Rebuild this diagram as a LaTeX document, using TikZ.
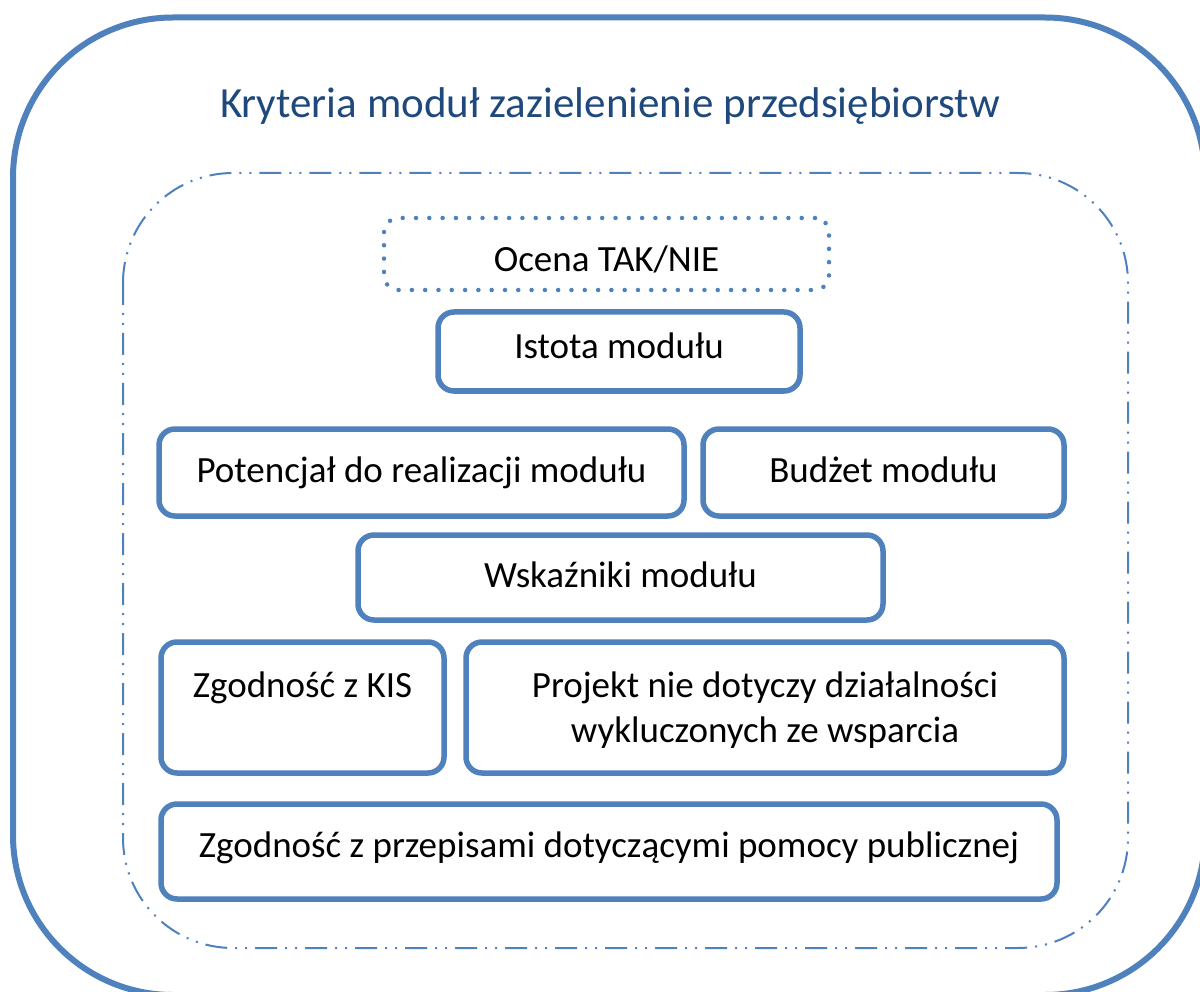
\documentclass[tikz,border=0pt]{standalone}
\usepackage{fontspec}
\setmainfont{Carlito}
\definecolor{frameblue}{HTML}{4F81BD}
\definecolor{titleblue}{HTML}{1F497D}
\tikzset{
  outerframe/.style={draw=frameblue, line width=6pt, rounded corners=160pt},
  innerframe/.style={draw=frameblue, line width=2pt, rounded corners=110pt,
    dash pattern=on 22pt off 8pt on 2pt off 8pt on 2pt off 8pt},
  critbox/.style={draw=frameblue, line width=5.5pt, rounded corners=16pt, inner sep=0pt, fill=white},
  dotbox/.style={draw=frameblue, line width=4.5pt, line cap=round, dash pattern=on 0pt off 13.3pt,
    rounded corners=14pt, inner sep=0pt},
  crittext/.style={anchor=base, inner sep=0pt, font=\fontsize{37}{45}\selectfont, text=black},
  titletext/.style={anchor=base, inner sep=0pt, font=\fontsize{43}{52}\selectfont, text=titleblue}
}
\begin{document}
\begin{tikzpicture}[x=1pt,y=-1pt]
\useasboundingbox (0,0) rectangle (1200,992);
\fill[white] (0,0) rectangle (1200,992);
\clip (0,0) rectangle (1200,992);
% frames
\draw[outerframe] (13,17.5) rectangle (1205,995);
\draw[innerframe] (123,173) rectangle (1128,948);
% title
\node[titletext] (title) at (610,118) {Kryteria moduł zazielenienie przedsiębiorstw};
% boxes
\node[dotbox, minimum width=445pt, minimum height=72pt] (ocena) at (606.5,254) {};
\node[critbox, minimum width=362pt, minimum height=79pt] (istota) at (619,351.5) {};
\node[critbox, minimum width=525pt, minimum height=87pt] (potencjal) at (421.5,472.5) {};
\node[critbox, minimum width=361pt, minimum height=87pt] (budzet) at (883.5,472.5) {};
\node[critbox, minimum width=525pt, minimum height=85pt] (wskazniki) at (620.5,577.5) {};
\node[critbox, minimum width=283pt, minimum height=131pt] (kis) at (302.5,707.5) {};
\node[critbox, minimum width=598pt, minimum height=131pt] (projekt) at (765,707.5) {};
\node[critbox, minimum width=896pt, minimum height=95pt] (przepisy) at (609,851.5) {};
% texts
\node[crittext] (ocenaT) at (606.5,272) {Ocena TAK/NIE};
\node[crittext] (istotaT) at (619,359) {Istota modułu};
\node[crittext] (potencjalT) at (421.5,482) {Potencjał do realizacji modułu};
\node[crittext] (budzetT) at (883.5,482) {Budżet modułu};
\node[crittext] (wskaznikiT) at (620.5,587) {Wskaźniki modułu};
\node[crittext] (kisT) at (302.5,697) {Zgodność z KIS};
\node[crittext] (projektT1) at (765,697) {Projekt nie dotyczy działalności};
\node[crittext] (projektT2) at (765,742) {wykluczonych ze wsparcia};
\node[crittext] (przepisyT) at (609,857) {Zgodność z przepisami dotyczącymi pomocy publicznej};
\end{tikzpicture}
\end{document}
